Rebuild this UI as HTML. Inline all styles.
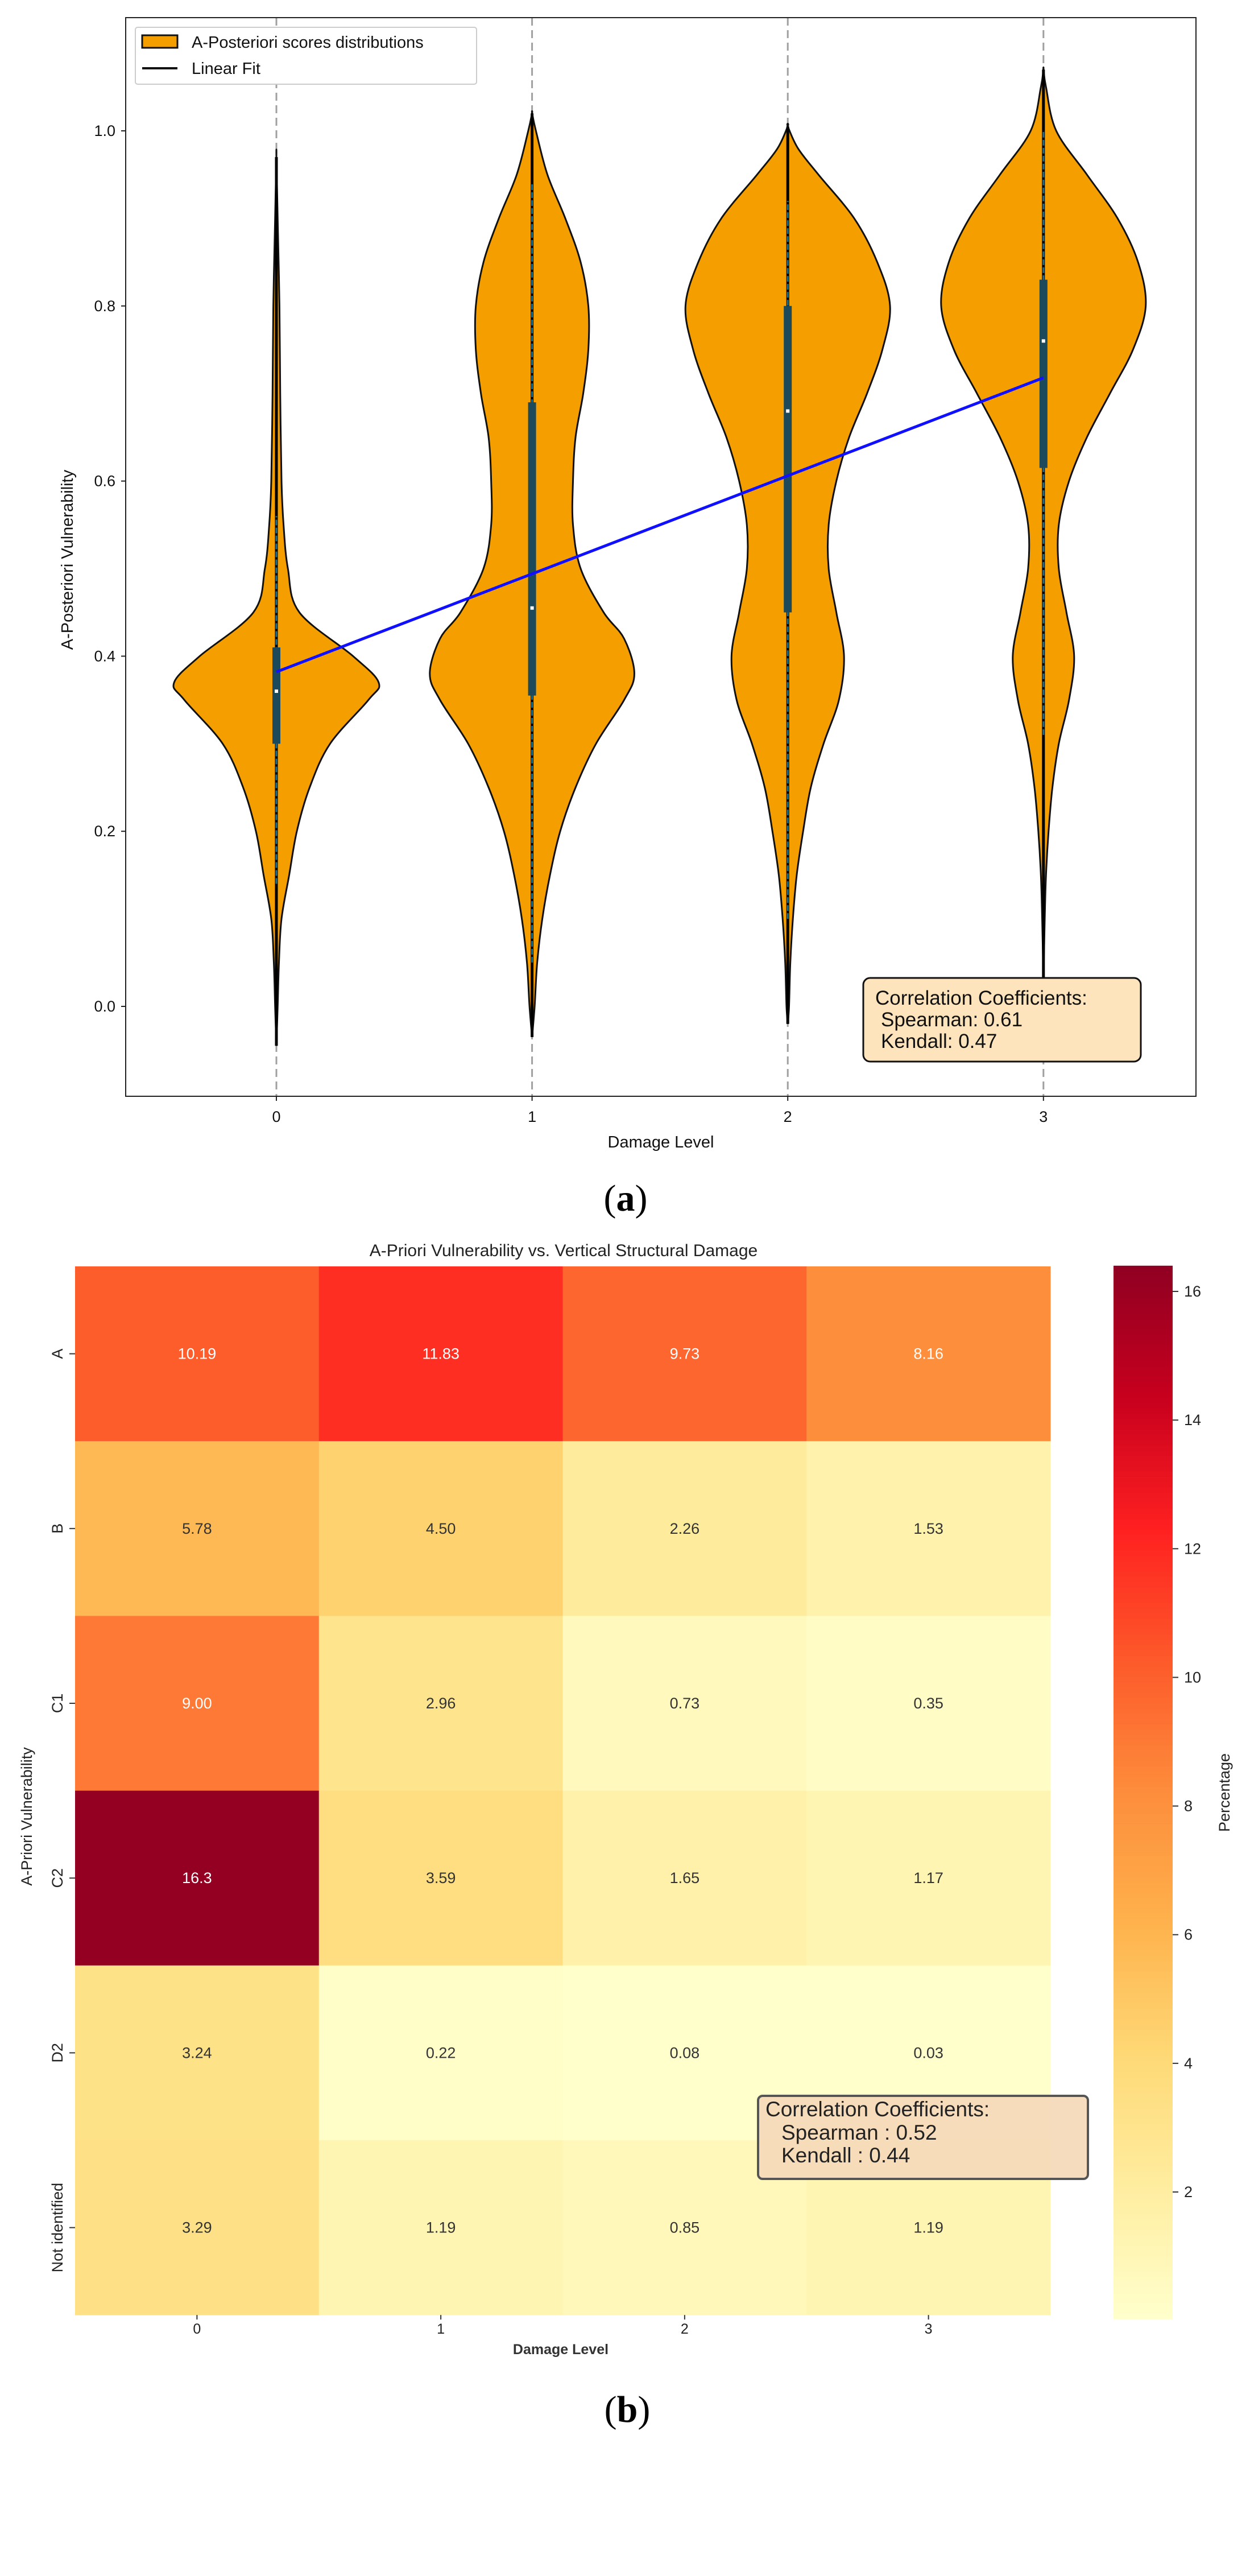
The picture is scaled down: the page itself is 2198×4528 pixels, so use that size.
<!DOCTYPE html>
<html><head><meta charset="utf-8"><style>
html,body{margin:0;padding:0;background:#fff;}
svg{display:block;font-family:"Liberation Sans","DejaVu Sans",sans-serif;}
</style></head><body>
<svg id="fig" width="2198" height="4528" viewBox="0 0 2198 4528" xmlns="http://www.w3.org/2000/svg">
<g id="pa"></g>
<g id="pb"></g>
</svg>
<script>
// ---------- Panel (a) data ----------
const violinCats = [0, 1, 2, 3];
const yTicksA = [0.0, 0.2, 0.4, 0.6, 0.8, 1.0];
const v0Y = [-0.045,0,0.05,0.1,0.15,0.2,0.25,0.3,0.35,0.37,0.4,0.45,0.5,0.55,0.6,0.7,0.8,0.9,0.97];
const v0W = [0,0.005,0.01,0.02,0.05,0.08,0.13,0.21,0.36,0.40,0.30,0.09,0.045,0.028,0.02,0.015,0.012,0.005,0];
const v1Y = [-0.035,0,0.05,0.1,0.15,0.2,0.25,0.3,0.35,0.38,0.42,0.45,0.5,0.55,0.6,0.65,0.7,0.75,0.8,0.85,0.9,0.95,1.0,1.02];
const v1W = [0,0.01,0.02,0.04,0.07,0.11,0.17,0.25,0.36,0.40,0.36,0.28,0.19,0.16,0.16,0.17,0.2,0.22,0.22,0.19,0.13,0.06,0.015,0];
const v2Y = [-0.02,0,0.05,0.1,0.15,0.2,0.25,0.3,0.35,0.4,0.45,0.5,0.55,0.6,0.65,0.7,0.75,0.8,0.85,0.9,0.95,0.98,1.005];
const v2W = [0,0.005,0.01,0.02,0.035,0.06,0.09,0.14,0.2,0.22,0.19,0.16,0.16,0.19,0.24,0.31,0.37,0.40,0.35,0.26,0.12,0.04,0];
const v3Y = [0.03,0.1,0.15,0.2,0.25,0.3,0.35,0.4,0.45,0.5,0.55,0.6,0.65,0.7,0.75,0.8,0.85,0.9,0.95,1.0,1.05,1.07];
const v3W = [0,0.005,0.01,0.02,0.035,0.06,0.10,0.12,0.09,0.06,0.06,0.10,0.17,0.26,0.35,0.40,0.37,0.29,0.17,0.05,0.01,0];
const q1s = [0.30, 0.355, 0.45, 0.615];
const q3s = [0.41, 0.69, 0.80, 0.83];
const medians = [0.36, 0.455, 0.68, 0.76];
const whiskLo = [0.14, 0.05, 0.10, 0.31];
const whiskHi = [0.56, 0.94, 0.92, 1.00];
const extLo = [-0.045, -0.035, -0.02, 0.03];
const extHi = [0.97, 1.02, 1.005, 1.07];
const fitIntercept = 0.382;
const fitSlope = 0.112;

// ---------- Panel (b) data ----------
const hmCols = ["0","1","2","3"];
const hmRows = ["A","B","C1","C2","D2","Not identified"];
const rowA = [10.19, 11.83, 9.73, 8.16];
const rowB = [5.78, 4.50, 2.26, 1.53];
const rowC1 = [9.00, 2.96, 0.73, 0.35];
const rowC2 = [16.3, 3.59, 1.65, 1.17];
const rowD2 = [3.24, 0.22, 0.08, 0.03];
const rowNI = [3.29, 1.19, 0.85, 1.19];
const cellLabels = [["10.19","11.83","9.73","8.16"],["5.78","4.50","2.26","1.53"],["9.00","2.96","0.73","0.35"],["16.3","3.59","1.65","1.17"],["3.24","0.22","0.08","0.03"],["3.29","1.19","0.85","1.19"]];
const cbTicks = [2,4,6,8,10,12,14,16];

const NS = "http://www.w3.org/2000/svg";
function mk(parent, tag, attrs, text){
  const e = document.createElementNS(NS, tag);
  for (const k in attrs) e.setAttribute(k, attrs[k]);
  if (text !== undefined) e.textContent = text;
  parent.appendChild(e); return e;
}

// ===== Panel A =====
const pa = document.getElementById('pa');
const AL=221, AR=2103, AT=31, AB=1927;
const ax = v => 486 + v*449.6;
const ay = v => 1769 - v*1539;
const aw = w => w*449.6;

for (const c of violinCats){
  const g = mk(pa,'line',{x1:ax(c),x2:ax(c),y1:AT,y2:AB,stroke:'#a0a0a0','stroke-width':3,'stroke-dasharray':'14,8'});
  
  
}
function smoothPath(pts){
  let d = `M${pts[0][0]},${pts[0][1]}`;
  for (let i=0;i<pts.length-1;i++){
    const p0=pts[Math.max(0,i-1)], p1=pts[i], p2=pts[i+1], p3=pts[Math.min(pts.length-1,i+2)];
    const c1=[p1[0]+(p2[0]-p0[0])/6, p1[1]+(p2[1]-p0[1])/6];
    const c2=[p2[0]-(p3[0]-p1[0])/6, p2[1]-(p3[1]-p1[1])/6];
    d += ` C${c1[0]},${c1[1]} ${c2[0]},${c2[1]} ${p2[0]},${p2[1]}`;
  }
  return d;
}
const VY=[v0Y,v1Y,v2Y,v3Y], VW=[v0W,v1W,v2W,v3W];
violinCats.forEach((c,i)=>{
  const cx=ax(c);
  const right = VY[i].map((y,j)=>[cx+aw(VW[i][j]), ay(y)]);
  const left = VY[i].map((y,j)=>[cx-aw(VW[i][j]), ay(y)]).reverse();
  const pts = right.concat(left);
  const p = mk(pa,'path',{d:smoothPath(pts)+' Z',fill:'#f59e00',stroke:'#111','stroke-width':3});
  
  
  const ext = mk(pa,'line',{x1:cx,x2:cx,y1:ay(extLo[i]),y2:ay(extHi[i]),stroke:'#000','stroke-width':5});
  
  
  const wk = mk(pa,'line',{x1:cx,x2:cx,y1:ay(whiskLo[i]),y2:ay(whiskHi[i]),stroke:'#1f6f8f','stroke-width':3,'stroke-dasharray':'10,4'});
  
  
  const bx = mk(pa,'rect',{x:cx-7,y:ay(q3s[i]),width:14,height:ay(q1s[i])-ay(q3s[i]),fill:'#1d4a5a'});
  
  
  const md = mk(pa,'rect',{x:cx-3,y:ay(medians[i])-3,width:6,height:6,fill:'#fff'});
  
  
});
const fit = mk(pa,'line',{x1:ax(0),y1:ay(fitIntercept),x2:ax(3),y2:ay(fitIntercept+3*fitSlope),stroke:'#1010ff','stroke-width':5});


const frame = mk(pa,'rect',{x:AL,y:AT,width:AR-AL,height:AB-AT,fill:'none',stroke:'#222','stroke-width':2});


for (const t of yTicksA){
  const tl = mk(pa,'line',{x1:AL-8,x2:AL,y1:ay(t),y2:ay(t),stroke:'#222','stroke-width':2});
  
  
  const tx = mk(pa,'text',{x:AL-18,y:ay(t)+9,'text-anchor':'end','font-size':27,fill:'#111'},t.toFixed(1));
  
  
}
for (const c of violinCats){
  const tl = mk(pa,'line',{x1:ax(c),x2:ax(c),y1:AB,y2:AB+8,stroke:'#222','stroke-width':2});
  
  
  const tx = mk(pa,'text',{x:ax(c),y:1972,'text-anchor':'middle','font-size':27,fill:'#111'},String(c));
  
  
}
</script>
<script>
(function(){
const pa=document.getElementById('pa');
pa.insertAdjacentHTML('beforeend',`
<text x="1162" y="2017" text-anchor="middle" font-size="29" fill="#111">Damage Level</text>
<text transform="translate(128,984) rotate(-90)" text-anchor="middle" font-size="29" fill="#111">A-Posteriori Vulnerability</text>
<g>
<rect x="238" y="48" width="600" height="100" rx="4" fill="#fff" stroke="#ccc" stroke-width="2"/>
<rect x="250" y="62" width="62" height="22" fill="#f59e00" stroke="#111" stroke-width="3"/>
<text x="337" y="84" font-size="29" fill="#111">A-Posteriori scores distributions</text>
<line x1="250" x2="312" y1="120" y2="120" stroke="#111" stroke-width="4"/>
<text x="337" y="130" font-size="29" fill="#111">Linear Fit</text>
</g>
<g>
<rect x="1518" y="1719" width="488" height="147" rx="12" fill="#fde4bd" stroke="#111" stroke-width="3"/>
<text x="1539" y="1766" font-size="35" fill="#111">Correlation Coefficients:</text>
<text x="1549" y="1804" font-size="35" fill="#111">Spearman: 0.61</text>
<text x="1549" y="1842" font-size="35" fill="#111">Kendall: 0.47</text>
</g>
<text x="1100" y="2128" text-anchor="middle" font-size="66" font-family="Liberation Serif, serif" fill="#000">(<tspan font-weight="bold">a</tspan>)</text>
`);
})();
</script>
<script>
(function(){
const pb=document.getElementById('pb');
const NS="http://www.w3.org/2000/svg";
function mk(parent, tag, attrs, text){
  const e=document.createElementNS(NS,tag);
  for(const k in attrs) e.setAttribute(k,attrs[k]);
  if(text!==undefined) e.textContent=text;
  parent.appendChild(e); return e;
}
const stops=["#ffffcc","#ffeda0","#fed976","#feb24c","#fd8d3c","#fd5a2a","#ff2020","#c8001e","#900022"];
const hx=s=>[1,3,5].map(i=>parseInt(s.substr(i,2),16));
const VMIN=0.03, VMAX=16.4;
function cmap(v){
  let t=Math.max(0,Math.min(1,(v-VMIN)/(VMAX-VMIN)))*(stops.length-1);
  const i=Math.min(stops.length-2,Math.floor(t)); const f=t-i;
  const a=hx(stops[i]), b=hx(stops[i+1]);
  return `rgb(${a.map((x,k)=>Math.round(x+(b[k]-x)*f)).join(',')})`;
}
const HL=132, HT=2226, CW=428.75, RH=307.2;
const rows=[rowA,rowB,rowC1,rowC2,rowD2,rowNI];
rows.forEach((r,ri)=>{
  r.forEach((v,ci)=>{
    const c=mk(pb,'rect',{x:HL+ci*CW,y:HT+ri*RH,width:CW+0.5,height:RH+0.5,fill:cmap(v)});
    
    
    const t=mk(pb,'text',{x:HL+ci*CW+CW/2,y:HT+ri*RH+RH/2+9,'text-anchor':'middle','font-size':27,fill:v>7.5?'#fff':'#333'},cellLabels[ri][ci]);
    
    
  });
});
hmRows.forEach((name,ri)=>{
  const y=HT+ri*RH+RH/2;
  const tl=mk(pb,'line',{x1:HL-10,x2:HL,y1:y,y2:y,stroke:'#333','stroke-width':2});
  
  
  const tx=mk(pb,'text',{transform:`translate(${HL-22},${y}) rotate(-90)`,'text-anchor':'middle','font-size':27,fill:'#222'},name);
  
  
});
hmCols.forEach((name,ci)=>{
  const x=HL+ci*CW+CW/2;
  const tl=mk(pb,'line',{x1:x,x2:x,y1:HT+6*RH,y2:HT+6*RH+8,stroke:'#333','stroke-width':2});
  
  
  const tx=mk(pb,'text',{x:x,y:4102,'text-anchor':'middle','font-size':25,fill:'#222'},name);
  
  
});
const CBX=1958, CBW=104;
const cby=v=>3853-(v-2)*113.07;
for(let i=0;i<200;i++){
  const v0=VMIN+(VMAX-VMIN)*i/200, v1=VMIN+(VMAX-VMIN)*(i+1)/200;
  const r=mk(pb,'rect',{x:CBX,y:cby(v1),width:CBW,height:cby(v0)-cby(v1)+1,fill:cmap((v0+v1)/2)});
  
  
}
cbTicks.forEach(t=>{
  const tl=mk(pb,'line',{x1:CBX+CBW,x2:CBX+CBW+10,y1:cby(t),y2:cby(t),stroke:'#333','stroke-width':2});
  
  
  const tx=mk(pb,'text',{x:CBX+CBW+20,y:cby(t)+9,'font-size':27,fill:'#222'},String(t));
  
  
});
pb.insertAdjacentHTML('beforeend',`
<text x="991" y="2208" text-anchor="middle" font-size="30" fill="#222">A-Priori Vulnerability vs. Vertical Structural Damage</text>
<text x="986" y="4138" text-anchor="middle" font-size="25" font-weight="bold" fill="#333">Damage Level</text>
<text transform="translate(56,3193) rotate(-90)" text-anchor="middle" font-size="27" fill="#222">A-Priori Vulnerability</text>
<text transform="translate(2162,3151) rotate(-90)" text-anchor="middle" font-size="27" fill="#222">Percentage</text>
<g>
<rect x="1333" y="3684" width="580" height="146" rx="8" fill="#f5d9b8" fill-opacity="0.92" stroke="#555" stroke-width="4"/>
<text x="1346" y="3720" font-size="37" fill="#222">Correlation Coefficients:</text>
<text x="1374" y="3761" font-size="37" fill="#222">Spearman : 0.52</text>
<text x="1374" y="3801" font-size="37" fill="#222">Kendall : 0.44</text>
</g>
<text x="1103" y="4257" text-anchor="middle" font-size="66" font-family="Liberation Serif, serif" fill="#000">(<tspan font-weight="bold">b</tspan>)</text>
`);
})();
</script>
</body></html>
